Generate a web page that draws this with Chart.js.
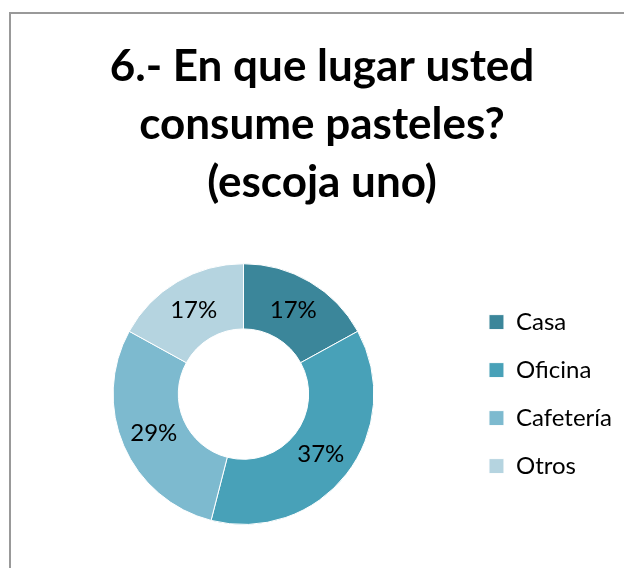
<!DOCTYPE html>
<html>
<head>
<meta charset="utf-8">
<script src="https://cdn.jsdelivr.net/npm/chart.js@4.4.1/dist/chart.umd.min.js"></script>
<style>
  html, body { margin: 0; padding: 0; background: #fff; overflow: hidden; }
  #frame {
    position: absolute; left: 9px; top: 12px;
    border-left: 2px solid #999; border-top: 2px solid #999;
    width: 640px; height: 600px;
  }
</style>
</head>
<body>
<div id="frame"><canvas id="pieChart" width="622" height="560"></canvas></div>
<script>
const categories = ['Casa', 'Oficina', 'Cafetería', 'Otros'];
const percentages = [17, 37, 29, 17];
const sliceColors = ['#3B869A', '#48A1B8', '#7DBACF', '#B5D4E0'];
const titleLines = ['6.- En que lugar usted', 'consume pasteles?', '(escoja uno)'];

// draws the percentage text in the middle of every ring segment
const sliceLabels = {
    id: 'slice_labels',
    afterDatasetsDraw(chart) {
        const ctx = chart.ctx;
        const meta = chart.getDatasetMeta(0);
        ctx.save();
        ctx.font = '24px Lato';
        ctx.fillStyle = '#000';
        ctx.textAlign = 'center';
        ctx.textBaseline = 'middle';
        meta.data.forEach((arc, i) => {
            const pos = arc.tooltipPosition();
            ctx.fillText(chart.data.datasets[0].data[i] + '%', pos.x, pos.y);
        });
        ctx.restore();
    }
};

function createChart() {
    const ctx = document.getElementById('pieChart').getContext('2d');
    return new Chart(ctx, {
        type: 'doughnut',
        data: {
            labels: categories,
            datasets: [{
                data: percentages,
                backgroundColor: sliceColors,
                borderColor: '#fff',
                borderWidth: 1
            }]
        },
        options: {
            responsive: false,
            animation: false,
            cutout: '50%',
            layout: { padding: { left: 11, right: 11, bottom: 49 } },
            plugins: {
                title: {
                    display: true,
                    text: titleLines,
                    color: '#000',
                    font: { family: 'Lato', size: 44, weight: 'bold', lineHeight: 1.32 },
                    padding: { top: 24, bottom: 51 }
                },
                legend: {
                    position: 'right',
                    fullSize: false,
                    labels: {
                        color: '#000',
                        font: { family: 'Lato', size: 24 },
                        boxWidth: 15,
                        boxHeight: 15,
                        padding: 24
                    }
                },
                tooltip: { enabled: false }
            }
        },
        plugins: [sliceLabels]
    });
}

createChart();
</script>
</body>
</html>
